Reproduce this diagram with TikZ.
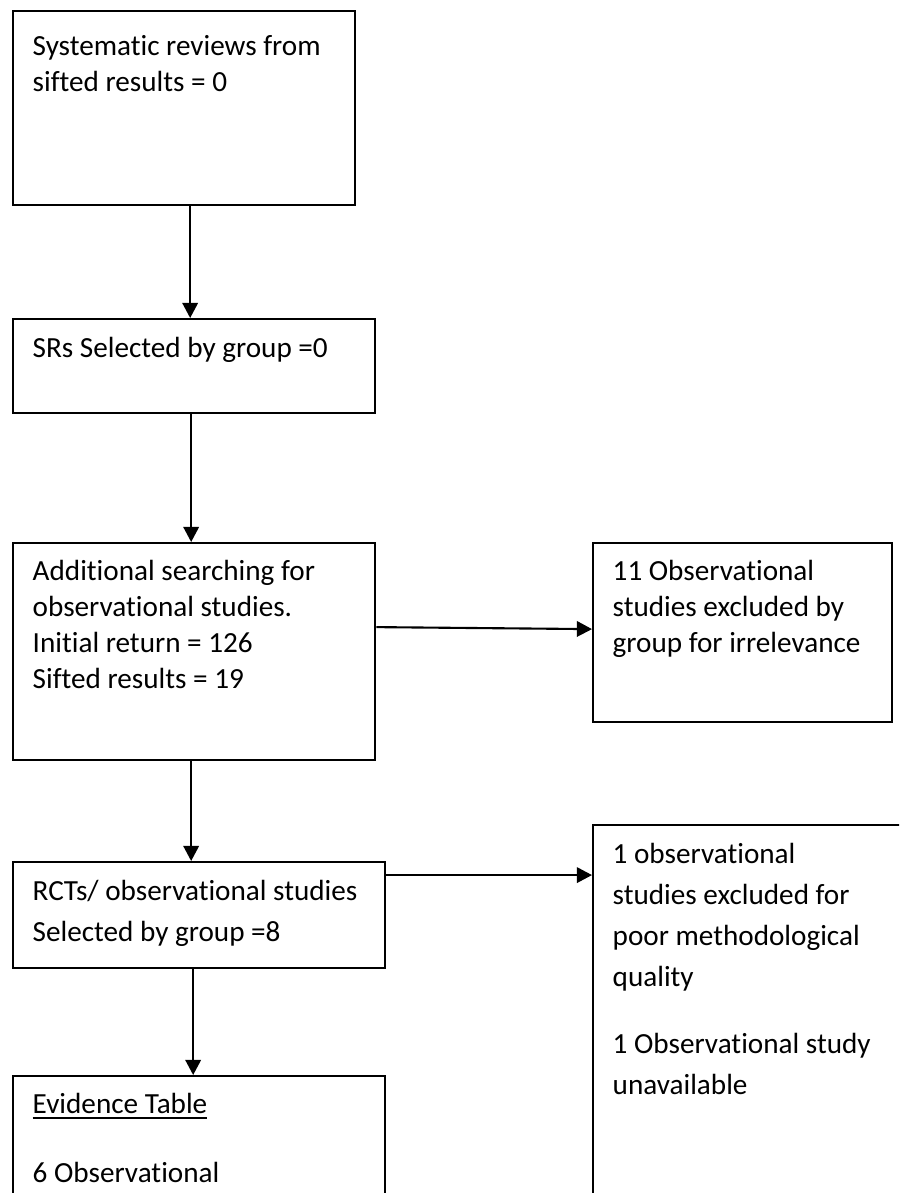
\documentclass[tikz,border=0pt]{standalone}
\usepackage{fontspec}
\setmainfont{Carlito}[Ligatures=NoCommon]
\usepackage{tikz}
\usetikzlibrary{arrows.meta,positioning,calc}

\begin{document}
\begin{tikzpicture}[x=0.01cm, y=-0.01cm, >={Triangle[length=4.3pt, width=4.4pt]},
  flowbox/.style={draw=black, line width=0.6pt, anchor=north west, inner sep=0pt},
  boxtext/.style={anchor=base west, inner sep=0pt, text width=3.5cm, align=justify,
    font=\fontsize{8.3pt}{10.25pt}\selectfont,
    execute at begin node={\spaceskip=0pt\xspaceskip=0pt\relax}},
  boxtextloose/.style={boxtext, font=\fontsize{8.3pt}{11.7pt}\selectfont},
  flow/.style={->, line width=0.6pt}]

% ==========================================
% Page frame (picture is cut at right and bottom)
% ==========================================
\useasboundingbox (0,0) rectangle (899,1193);
\clip (0,0) rectangle (899,1193);

% ==========================================
% Left column boxes
% ==========================================
\node[flowbox, minimum width=3.42cm, minimum height=1.94cm] (sysrev) at (12,10) {};
\node[boxtext] (sysrevtxt) at (32,55) {Systematic reviews from\\sifted results = 0};

\node[flowbox, minimum width=3.62cm, minimum height=0.94cm] (srsel) at (12,318) {};
\node[boxtext] (srseltxt) at (32,357) {SRs Selected by group =0};

\node[flowbox, minimum width=3.62cm, minimum height=2.17cm] (addsrch) at (12,542) {};
\node[boxtext] (addsrchtxt) at (32,580) {Additional searching for\\observational studies.\\Initial return = 126\\Sifted results = 19};

\node[flowbox, minimum width=3.72cm, minimum height=1.06cm] (rctsel) at (12,861) {};
\node[boxtextloose] (rctseltxt) at (32,900) {RCTs/ observational studies\\Selected by group =8};

\node[flowbox, minimum width=3.72cm, minimum height=1.40cm] (evtab) at (12,1075) {};
\node[boxtextloose] (evtabtxt) at (32,1113) {\underline{Evidence Table}\\[0.28cm]6 Observational};

% ==========================================
% Right column (exclusions)
% ==========================================
\node[flowbox, minimum width=2.99cm, minimum height=1.79cm] (irrel) at (592,542) {};
\node[boxtext] (irreltxt) at (612,580) {11 Observational\\studies excluded by\\group for irrelevance};

\node[flowbox, minimum width=3.25cm, minimum height=3.90cm] (methq) at (592,824) {};
\node[boxtextloose] (methqtxt) at (612,863) {1 observational\\studies excluded for\\poor methodological\\quality\\[0.26cm]1 Observational study\\unavailable};

% ==========================================
% Connectors
% ==========================================
\draw[flow] ([xshift=0.06cm]sysrev.south) -- ([xshift=0.06cm]sysrev.south |- srsel.north);
\draw[flow] ([xshift=-0.03cm]srsel.south) -- ([xshift=-0.03cm]srsel.south |- addsrch.north);
\draw[flow] ([yshift=0.245cm]addsrch.east) -- ([yshift=0.035cm]irrel.west);
\draw[flow] ([xshift=-0.03cm]addsrch.south) -- ([xshift=-0.03cm]addsrch.south |- rctsel.north);
\draw[flow] ([yshift=0.40cm]rctsel.east) -- ([yshift=0.40cm]rctsel.east -| methq.west);
\draw[flow] ([xshift=-0.06cm]rctsel.south) -- ([xshift=-0.06cm]rctsel.south |- evtab.north);

\end{tikzpicture}
\end{document}
